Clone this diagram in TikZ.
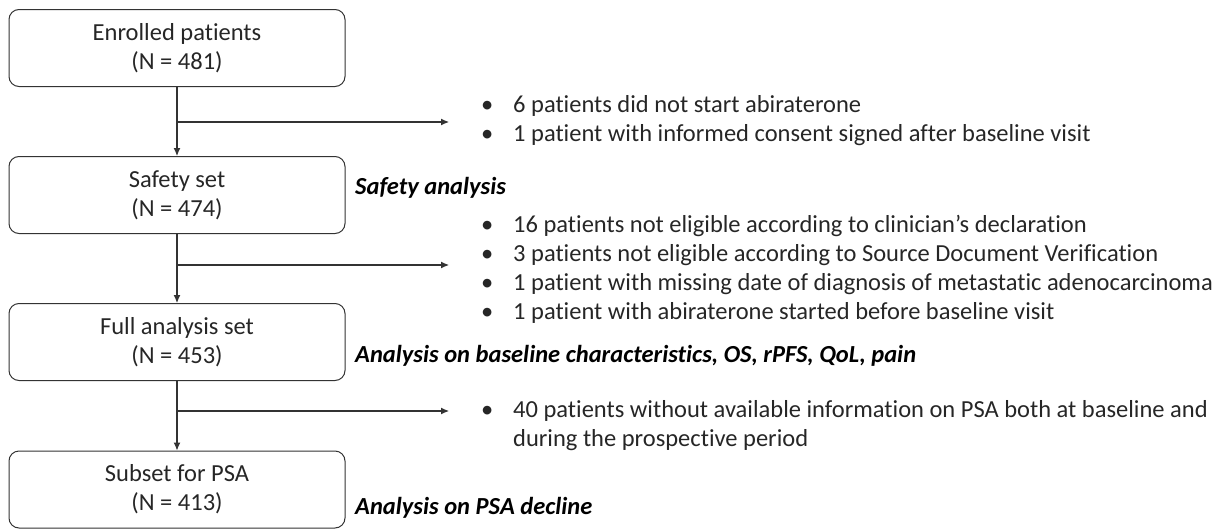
\documentclass[tikz,border=0pt]{standalone}
\usepackage{fontspec}
\setmainfont[Ligatures=NoCommon]{Carlito}
\usepackage{xcolor}
\usetikzlibrary{calc,arrows.meta}
\usetikzlibrary{positioning}
\definecolor{ink}{HTML}{262626}
\definecolor{rule}{HTML}{333333}

% bullet hanging at the left edge, text 26pt further on
\newcommand{\bul}{\makebox[26pt][l]{\makebox[0pt]{\textbullet}}}

\begin{document}
\begin{tikzpicture}[
    x=1pt, y=-1pt,
    set box/.style={draw=rule, line width=1pt, rounded corners=10pt, minimum width=336pt,
        minimum height=77pt, align=center, text=ink, font=\fontsize{24.5}{29}\selectfont},
    drop list/.style={anchor=west, text=ink, inner sep=0pt, font=\fontsize{24.5}{29}\selectfont},
    use note/.style={anchor=west, text=black, inner sep=0pt, font=\fontsize{24.5}{29}\selectfont\bfseries\itshape},
    flow/.style={draw=rule, line width=1.1pt, -{Latex[length=8pt,width=7pt]}}
]

% FIXED BOUNDING BOX
\path[use as bounding box] (0,0) rectangle (1223,530);

\node[set box] (enrolled) at (177,48)    {Enrolled patients\\(N = 481)};
\node[set box] (safety)   at (177,195)   {Safety set\\(N = 474)};
\node[set box] (full)     at (177,342)   {Full analysis set\\(N = 453)};
\node[set box] (psa)      at (177,489.5) {Subset for PSA\\(N = 413)};

\path (enrolled) edge[flow] (safety);
\path (safety)   edge[flow] (full);
\path (full)     edge[flow] (psa);

% exclusions branching off the main line
\coordinate (split1) at (177,122);
\coordinate (split2) at (177,265);
\coordinate (split3) at (177,411);
\coordinate (out1) at (449,122);
\coordinate (out2) at (449,265);
\coordinate (out3) at (449,411);
\draw[flow] (split1) -- (out1);
\draw[flow] (split2) -- (out2);
\draw[flow] (split3) -- (out3);

\node[drop list] (drop1) at (487,121.5) {%
  \begin{tabular}{@{}l@{}l@{}}
  \bul & 6 patients did not start abiraterone\\
  \bul & 1 patient with informed consent signed after baseline visit
  \end{tabular}};
\node[drop list] (drop2) at (487,270) {%
  \begin{tabular}{@{}l@{}l@{}}
  \bul & 16 patients not eligible according to clinician’s declaration\\
  \bul & 3 patients not eligible according to Source Document Verification\\
  \bul & 1 patient with missing date of diagnosis of metastatic adenocarcinoma\\
  \bul & 1 patient with abiraterone started before baseline visit
  \end{tabular}};
\node[drop list] (drop3) at (487,426) {%
  \begin{tabular}{@{}l@{}l@{}}
  \bul & 40 patients without available information on PSA both at baseline and\\
       & during the prospective period
  \end{tabular}};

% what each set is used for
\node[use note] (use1) at (355,188) {Safety analysis};
\node[use note] (use2) at (355,356) {Analysis on baseline characteristics, OS, rPFS, QoL, pain};
\node[use note] (use3) at (355,508) {Analysis on PSA decline};

\end{tikzpicture}
\end{document}
